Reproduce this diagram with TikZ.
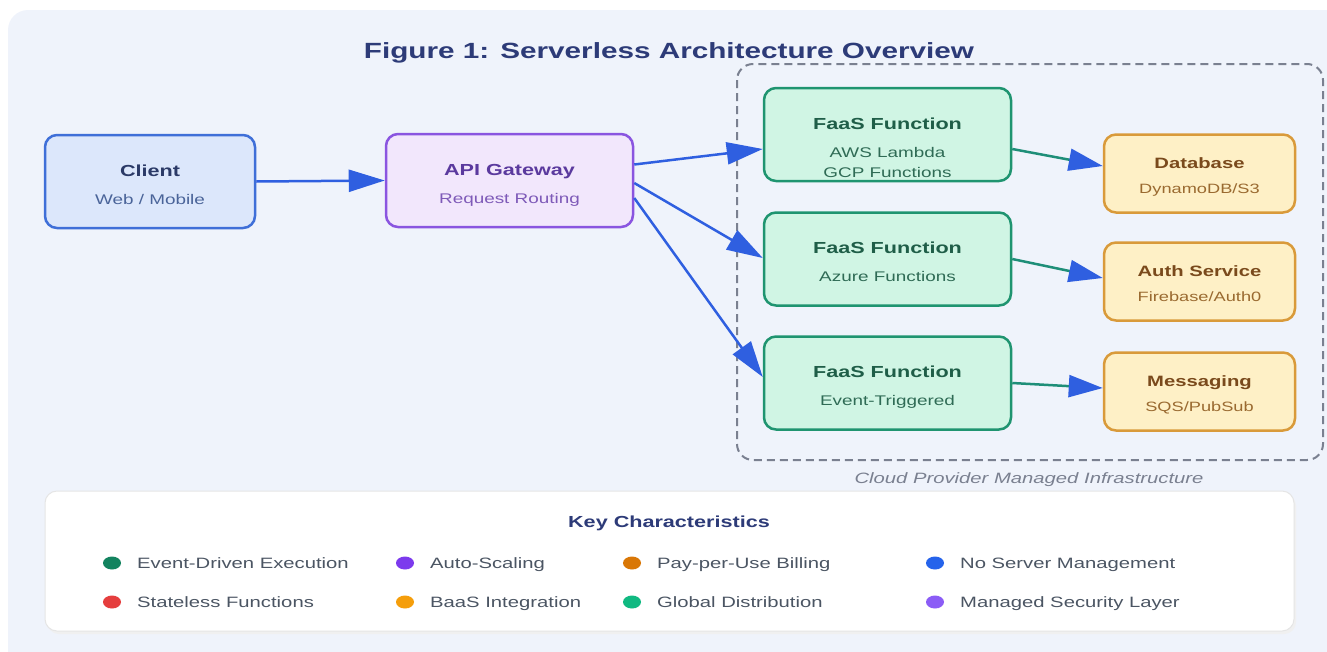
\documentclass[tikz,border=0pt]{standalone}
\usepackage{fontspec}
\setmainfont{Liberation Sans}[FakeStretch=1.35]
\usetikzlibrary{positioning,calc,arrows.meta}
\definecolor{panelbg}{HTML}{EFF3FB}
\definecolor{navy}{HTML}{2D3B78}
\definecolor{flowblue}{HTML}{2F5FE0}
\definecolor{flowteal}{HTML}{1E8E78}
\definecolor{cliFill}{HTML}{DCE7FB}
\definecolor{cliLine}{HTML}{3F6FD8}
\definecolor{cliText}{HTML}{2B3A67}
\definecolor{cliSub}{HTML}{4A6499}
\definecolor{apiFill}{HTML}{F2E7FC}
\definecolor{apiLine}{HTML}{8A55E0}
\definecolor{apiText}{HTML}{5B3A9E}
\definecolor{apiSub}{HTML}{7E5AB8}
\definecolor{faasFill}{HTML}{D0F5E4}
\definecolor{faasLine}{HTML}{1F9470}
\definecolor{faasText}{HTML}{1F5E48}
\definecolor{faasSub}{HTML}{2F6B55}
\definecolor{bassFill}{HTML}{FEF0C6}
\definecolor{bassLine}{HTML}{D99A3A}
\definecolor{bassText}{HTML}{7A4A1C}
\definecolor{bassSub}{HTML}{9A6A30}
\definecolor{itemgray}{HTML}{4B5563}
\definecolor{capgray}{HTML}{7A8090}

\begin{document}
\begin{tikzpicture}[x=1pt, y=-1pt,
        box/.style={draw, rounded corners=12pt, line width=2.5pt, inner sep=0pt},
        ttl/.style={anchor=base, inner sep=0pt, font=\bfseries\fontsize{16}{19}\selectfont},
        sub/.style={anchor=base, inner sep=0pt, align=center, font=\fontsize{14}{20}\selectfont},
        flow/.style={line width=2.5pt, flowblue, -{Triangle[length=36pt, width=22pt]}},
        store/.style={line width=2.5pt, flowteal, -{Triangle[length=34pt, width=22pt, color=flowblue]}},
        item/.style={anchor=base west, inner sep=0pt, text=itemgray, font=\fontsize{15}{18}\selectfont}]
        \useasboundingbox (0,0) rectangle (1327,651);
        \clip (0,0) rectangle (1327,651);
        \fill[panelbg, rounded corners=20pt] (8,10) rectangle (1350,680);
        \node[inner sep=0pt, anchor=base, text=navy, font=\bfseries\fontsize{22}{26}\selectfont] (title) at (669,58) {Figure 1: Serverless Architecture Overview};
        \draw[capgray, line width=2pt, dash pattern=on 8pt off 5pt, rounded corners=16pt] (737,64) rectangle (1323,460);
        \node[inner sep=0pt, anchor=base, text=capgray, font=\itshape\fontsize{15}{18}\selectfont] (cloud) at (1029,483) {Cloud Provider Managed Infrastructure};

        \node[box, draw=cliLine, fill=cliFill, minimum width=210pt, minimum height=93pt] (client) at (150,181.5) {};
        \node[ttl, text=cliText] (client-t) at ($(client.center)+(0,-5.5)$) {Client};
        \node[sub, text=cliSub] (client-s) at ($(client.center)+(0,22.5)$) {Web / Mobile};
        \node[box, draw=apiLine, fill=apiFill, minimum width=247pt, minimum height=93pt] (api) at (509.5,180.5) {};
        \node[ttl, text=apiText] (api-t) at ($(api.center)+(0,-5.5)$) {API Gateway};
        \node[sub, text=apiSub] (api-s) at ($(api.center)+(0,22.5)$) {Request Routing};

        \foreach \i/\y/\s/\o in {1/134.5/{AWS Lambda\\GCP Functions}/42.5, 2/259/Azure Functions/22.5, 3/383/Event-Triggered/22.5} {
          \node[box, draw=faasLine, fill=faasFill, minimum width=247pt, minimum height=93pt] (faas\i) at (887.5,\y) {};
          \node[ttl, text=faasText] (faas\i-t) at ($(faas\i.center)+(0,-5.5)$) {FaaS Function};
          \node[sub, text=faasSub] (faas\i-s) at ($(faas\i.center)+(0,\o)$) {\s};
        };
        \foreach \n/\y/\t/\s in {db/173.5/Database/DynamoDB\slash S3, auth/281.5/Auth Service/Firebase\slash Auth0, msg/391.5/Messaging/SQS\slash PubSub} {
          \node[box, draw=bassLine, fill=bassFill, minimum width=191pt, minimum height=78pt] (\n) at (1199.5,\y) {};
          \node[ttl, text=bassText, font=\bfseries\fontsize{15}{18}\selectfont] (\n-t) at ($(\n.center)+(0,-5)$) {\t};
          \node[sub, text=bassSub, font=\fontsize{13.5}{16}\selectfont] (\n-s) at ($(\n.center)+(0,19.5)$) {\s};
        };

        \draw[flow] (client.east) -- (api.west);
        \draw[flow] ($(api.east)+(0,-16)$) -- ($(faas1.west)+(0,14.5)$);
        \draw[flow] ($(api.east)+(0,2.5)$) -- ($(faas2.west)+(0,-1)$);
        \draw[flow] ($(api.east)+(0,17.5)$) -- ($(faas3.west)+(0,-6)$);
        \draw[store] ($(faas1.east)+(0,14.5)$) -- ($(db.west)+(0,-7.5)$);
        \draw[store] ($(faas2.east)+(0,0)$) -- ($(auth.west)+(0,-3.5)$);
        \draw[store] ($(faas3.east)+(0,0)$) -- ($(msg.west)+(0,-3.5)$);

        \fill[black!6, rounded corners=12pt] (47,494) rectangle (1296,634);
        \draw[black!10, fill=white, line width=1pt, rounded corners=12pt] (45,491) rectangle (1294,631);
        \node[inner sep=0pt, anchor=base, text=navy, font=\bfseries\fontsize{16}{19}\selectfont] (keys) at (669,527) {Key Characteristics};
        \foreach \x/\y/\c/\t in {112/563/13835F/Event-Driven Execution, 405/563/7C3AED/Auto-Scaling,
            632/563/D97706/Pay-per-Use Billing, 935/563/2563EB/No Server Management,
            112/602/E53E3E/Stateless Functions, 405/602/F59E0B/BaaS Integration,
            632/602/10B981/Global Distribution, 935/602/8B5CF6/Managed Security Layer} {
          \definecolor{dotc}{HTML}{\c}
          \fill[dotc] (\x,\y) ellipse [x radius=9, y radius=6.5];
          \node[item] (key-\x-\y) at (\x+25,\y+5.5) {\t};
        };
      \end{tikzpicture}
\end{document}
